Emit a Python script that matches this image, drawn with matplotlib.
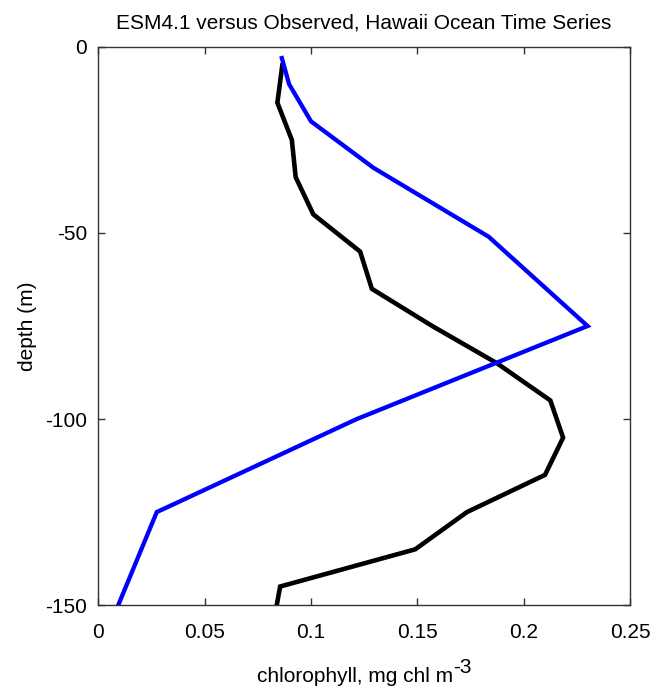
import matplotlib
matplotlib.use("Agg")
from matplotlib import pyplot as plt
from matplotlib.ticker import FixedLocator, FixedFormatter

plt.rcParams["font.family"] = ["Liberation Sans", "DejaVu Sans"]

# model (ESM4.1), blue
model_chl = [0.0863, 0.0897, 0.100, 0.1294, 0.1835, 0.230, 0.1215, 0.0275, 0.0094]
model_depth = [-3, -10, -20, -32.5, -51, -75, -100, -125, -150]

# observed (HOT), black
obs_chl = [0.0865, 0.0842, 0.091, 0.0928, 0.1011, 0.1231, 0.1286, 0.157, 0.1874,
           0.2125, 0.2185, 0.210, 0.1733, 0.149, 0.0855, 0.0839]
obs_depth = [-5, -15, -25, -35, -45, -55, -65, -75, -85,
             -95, -105, -115, -125, -135, -145, -150]

x_ticks = [0, 0.05, 0.1, 0.15, 0.2, 0.25]
x_labels = ["0", "0.05", "0.1", "0.15", "0.2", "0.25"]
y_ticks = [-150, -100, -50, 0]

fig = plt.figure(figsize=(6.55, 6.9), dpi=100)
ax = fig.add_axes([0.150, 0.123, 0.812, 0.809])

ax.plot(obs_chl, obs_depth, color="black", linewidth=3.3, solid_joinstyle="miter")
ax.plot(model_chl, model_depth, color="blue", linewidth=3.1, solid_joinstyle="miter")

ax.set_xlim(0, 0.25)
ax.set_ylim(-150, 0)
ax.xaxis.set_major_locator(FixedLocator(x_ticks))
ax.xaxis.set_major_formatter(FixedFormatter(x_labels))
ax.set_yticks(y_ticks)
ax.set_yticklabels([str(v) for v in y_ticks])

ax.tick_params(direction="in", length=5, width=1, top=True, right=True,
               labelsize=15, color="#333333")
ax.tick_params(axis="x", pad=13)
ax.tick_params(axis="y", pad=8)
for s in ax.spines.values():
    s.set_color("#333333")
    s.set_linewidth(1)

ax.set_title("ESM4.1 versus Observed, Hawaii Ocean Time Series", fontsize=15, pad=13)
xl = ax.set_xlabel("chlorophyll, mg chl m", fontsize=15, labelpad=18)
ax.set_ylabel("depth (m)", fontsize=15, labelpad=6)

# superscript with a plain hyphen, as in the original
sup = fig.text(0, 0, "-3", fontsize=15, ha="left", va="bottom", transform=None)
fig.canvas.draw()
r = fig.canvas.get_renderer()
w = sup.get_window_extent(r).width
ax_w = ax.get_window_extent(r).width
xl.set_x(0.5 - (w / 2) / ax_w)
fig.canvas.draw()
bb = xl.get_window_extent(r)
sup.set_position((bb.x1, bb.y0 + 9))

fig.savefig("out.png", dpi=100)
